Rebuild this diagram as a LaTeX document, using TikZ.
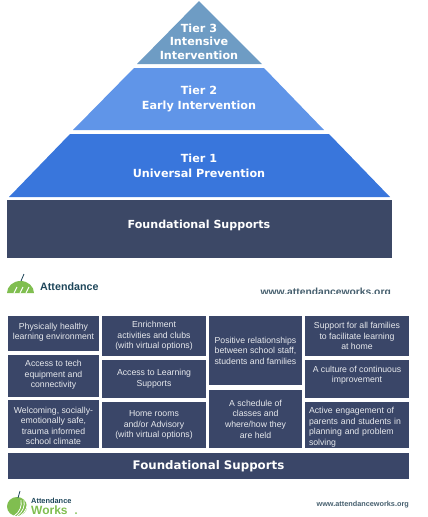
\documentclass[tikz,border=0pt]{standalone}
\usepackage{fontspec}
\setmainfont{Liberation Sans}
\newfontfamily\headfont{DejaVu Sans}
\usepackage{tikz}
\definecolor{tierthree}{RGB}{110,156,196}
\definecolor{tiertwo}{RGB}{96,149,232}
\definecolor{tierone}{RGB}{57,118,220}
\definecolor{basenavy}{RGB}{60,72,102}
\definecolor{boxnavy}{RGB}{58,70,104}
\definecolor{logogreen}{RGB}{128,190,80}
\definecolor{logonavy}{RGB}{30,70,90}
\definecolor{urlgrey}{RGB}{70,95,110}
\begin{document}
\begin{tikzpicture}[
  x=1pt,y=-1pt,
  tierlab/.style={text=white,align=center,font=\headfont\bfseries\fontsize{11.2}{15}\selectfont,inner sep=0pt},
  support/.style={fill=boxnavy,text=tcwhite,align=center,inner sep=0pt,font=\fontsize{8.7}{10.6}\selectfont},
  head/.style={text=white,font=\headfont\bfseries\fontsize{11.1}{12}\selectfont,inner sep=0pt},
  logotxt/.style={text=logonavy,font=\bfseries,anchor=west,inner sep=0pt},
  urltxt/.style={text=urlgrey,font=\bfseries\fontsize{7.3}{9}\selectfont,anchor=east,inner sep=0pt}]
\colorlet{tcwhite}{white!88!boxnavy}
\useasboundingbox (0,0) rectangle (428,517);
% pyramid
\fill[tierthree] (199,1)--(262,64)--(137,64)--cycle;
\fill[tiertwo] (134,68)--(264,68)--(324,130)--(73,130)--cycle;
\fill[tierone] (70,134)--(329,134)--(390,197)--(9,197)--cycle;
\fill[basenavy] (7,200) rectangle (392,258);
\node[tierlab,font=\headfont\bfseries\fontsize{11.2}{13.5}\selectfont] (t3) at (199,41.5) {Tier 3\\Intensive\\Intervention};
\node[tierlab] (t2) at (199,99) {Tier 2\\Early Intervention};
\node[tierlab] (t1) at (199,166) {Tier 1\\Universal Prevention};
\node[head] (found1) at (199,225.5) {Foundational Supports};
% upper logo
\fill[logogreen] (7,293) arc[start angle=180,end angle=0,x radius=13.5,y radius=-12] --cycle;
\draw[logonavy,line width=0.8pt] (21,281) -- (24,274);
\foreach \a in {14,20,26} \draw[white,line width=1pt] (\a,293) -- (\a+3,287);
\node[logotxt,font=\bfseries\fontsize{10.7}{12}\selectfont] (att1) at (40,287) {Attendance};
\begin{scope}
\clip (250,280) rectangle (400,293);
\node[urltxt,font=\bfseries\fontsize{10.3}{11}\selectfont] (url1) at (391,293) {www.attendanceworks.org};
\end{scope}
% support boxes
\node[support,minimum width=91pt,minimum height=35pt] (phys) at (53.5,333.5) {Physically healthy\\learning environment\\[-6pt]\mbox{}};
\node[support,minimum width=91pt,minimum height=42pt] (tech) at (53.5,376) {Access to tech\\equipment and\\connectivity\\[-7pt]\mbox{}};
\node[support,minimum width=91pt,minimum height=48pt] (welc) at (53.5,424) {\rule{0pt}{10pt}Welcoming, socially-\\emotionally safe,\\trauma informed\\school climate};
\node[support,minimum width=104pt,minimum height=40pt] (enri) at (154,336) {Enrichment\\activities and clubs\\(with virtual options)};
\node[support,minimum width=104pt,minimum height=38pt] (lear) at (154,379) {Access to Learning\\Supports};
\node[support,minimum width=104pt,minimum height=46pt] (home) at (154,425) {Home rooms\\and/or Advisory\\(with virtual options)};
\node[support,minimum width=93pt,minimum height=69pt] (rela) at (255.5,350.5) {Positive relationships\\between school staff,\\students and families};
\node[support,minimum width=93pt,minimum height=58pt] (sche) at (255.5,419) {A schedule of\\classes and\\where/how they\\are held};
\node[support,minimum width=104pt,minimum height=40pt] (fami) at (357,336) {Support for all families\\to facilitate learning\\at home};
\node[support,minimum width=104pt,minimum height=38pt] (cult) at (357,379) {A culture of continuous\\improvement\\[-1pt]\mbox{}};
\node[support,minimum width=104pt,minimum height=46pt,align=left,text width=96pt] (enga) at (357,425) {\rule{0pt}{11pt}Active engagement of\\parents and students in\\planning and problem\\solving};
\node[support,minimum width=401pt,minimum height=26pt,text=white,font=\headfont\bfseries\fontsize{11.8}{13}\selectfont] (found2) at (208.5,466) {Foundational Supports};
% lower logo
\fill[logogreen] (17,506.5) circle[x radius=10,y radius=9.5];
\foreach \a in {0,3,6} \draw[white,line width=0.8pt] (14+\a,516) .. controls (20+\a,512) and (22+\a,506) .. (21+\a,500);
\draw[logonavy,line width=0.8pt] (18,498) -- (20,491);
\node[logotxt,font=\bfseries\fontsize{7.4}{8}\selectfont] (att2) at (31,501) {Attendance};
\node[logotxt,text=logogreen,font=\bfseries\fontsize{12}{14}\selectfont] (works) at (31,510) {Works};
\fill[logogreen] (76,513) circle[radius=1];
\node[urltxt] (url2) at (409,505) {www.attendanceworks.org};
\end{tikzpicture}
\end{document}
